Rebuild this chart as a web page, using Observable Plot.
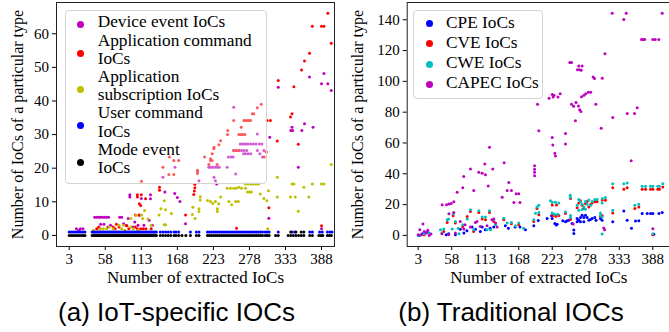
<!DOCTYPE html>
<html><head><meta charset="utf-8">
<script src="https://cdn.jsdelivr.net/npm/d3@7"></script>
<script src="https://cdn.jsdelivr.net/npm/@observablehq/plot@0.6"></script>
<style>
html,body{margin:0;padding:0;background:#fff;}
#root{position:relative;width:669px;height:332px;overflow:hidden;background:#fff;}
.panel{position:absolute;top:0;}
.cap{position:absolute;top:297px;font-family:"Liberation Sans",Arial,sans-serif;font-size:26px;line-height:30px;white-space:nowrap;transform:translateX(-50%);color:#000;}
.lgbox{position:absolute;box-sizing:border-box;border:1px solid #d4d4d4;border-radius:4px;background:rgba(255,255,255,0.35);}
.lgtxt{position:absolute;font-family:"Liberation Serif","Times New Roman",serif;font-size:17.3px;line-height:18px;height:18px;white-space:nowrap;color:#000;}
.lgdot{position:absolute;width:7px;height:7px;border-radius:50%;}
</style></head><body><div id="root"></div>
<script>
// ---------- tick labels ----------
const xTickValues = [3, 58, 113, 168, 223, 278, 333, 388];
const iotTicks = [0, 10, 20, 30, 40, 50, 60];
const tradTicks = [0, 20, 40, 60, 80, 100, 120, 140];

// ---------- (a) IoT-specific IOCs: [extracted IoCs, count] ----------
const deviceEvent = [[14,2],[18,1.5],[20,2],[24,2],
[42,5.4],[45,5.4],[48,5.4],[51,5.4],[54,5.4],[57,5.4],[60,5.4],[63,5.4],[80,5.4],[83,5.4],[93,5],
[51,3.3],[56,3.3],[62,2.5],[66,3],[86,3.5],[90,3],[100,2.5],[103,4],[108,3],[117,3],[125,4.5],[130,3],
[95.5,12.1],[95.5,11.4],[127,12.1],[127,10.9],[113,11],[110,6],
[146,17.3],[149,12.9],[164.4,20.3],[164,12.5],[168,11.3],[172,10.1],[180.5,3.5],
[199,19],[201,16.3],
[216,20.3],[219,20.3],[222,20.3],[226,20.3],[229,20.3],[232,20.3],[224,17.3],[226,16.3],[228,15.3],
[244,20.3],[246,23.3],[250,23.3],[253,23.3],[257,18.3],
[254,25.3],[258,25.3],[262,25.3],[266,25.3],[270,25.3],[274,25.3],
[269,24.3],[272,24.3],[276,24.3],[280,24.3],
[264,27.2],[267,27.2],[270,27.2],[273,27.2],[276,27.2],[280,27.2],[284,27.2],[288,27.2],[293,27.2],[297,27.2],
[290,25.3],[294,24.3],[298,23.3],[300,25.3],
[254,38.1],[290,30.2],[309,29.2],[322,44.1],[341,31.2],[343,32.2],[344,31.2],[358,31.2],[362,33.2],[375,32.2],
[352.5,20.3],[369.7,47.1],[388,45.1],[391.6,48.2],[397.6,45.1],[402.8,43.1],[307.6,5.1],[388,2]];

const applicationCommand = [[45,2],[48,2.5],[50,2],[70,2.5],[73,2],[75,3.3],[79,2.5],[91,2.9],[94,2],[104,2.5],[107,2],[112,2],[116,2],[120,2],[128,2],
[104,6.1],[109.5,6.1],[107,12.1],[107,11.4],[113.3,16.1],[119.5,10.9],[110,9.4],[112,8.9],[113,12.1],
[140.8,14.3],[140.8,13.4],[146,20.3],[155,18.1],[162.6,18.1],[156,23.3],[162.6,22.3],[170,22.3],[180.5,6.1],
[194.7,15.2],[194.7,14.2],[194,13.2],[193,12.2],[198.7,19.4],[198.7,18.4],
[209.5,23.3],[216,21.1],[218.6,22.8],[221.2,24.3],[223.7,25.8],[228.8,21.1],[218.6,22.3],[221,22.3],[224,26.2],[231.4,27],[234,28.2],
[245,31.2],[244.6,30],[254,34.2],[254,25.3],[258,25.3],[262,25.3],[258.3,2.1],
[261.8,30],[265,30],[268,30],[271,30],[265.5,32.2],[269.5,34.2],[272,34.2],[275,34.2],[277.5,34.2],[279.7,34.2],[282.3,36.2],[284.7,36.2],[290,38],[296,39],
[305,34.2],[310,34.2],[300.5,23.3],[303.6,24.8],[307.6,8.2],
[320.4,28.1],[322,46.1],[340.7,35.2],[343,36.2],[345.8,44.2],[352.5,27.1],
[357.5,49.2],[362,51.9],[369.7,54.2],[374,62.2],[388,62.2],[391.6,62.2],[397.6,66.1],[402.8,57.2],[388,2.9]];

const applicationSubscription = [[40,1.5],[50,2],[55,2],[60,2],[64,2.5],[70,2],[79,3],[83,2],[86,3],[88,1.5],[97,2.5],[101,2],[108,1.5],
[97,5],[105,6],[113.3,6.1],[118,7.4],[123,4.9],[115,5],[128,3],
[140,6.1],[143,7.9],[148,10.3],[150,7.6],[148,3.2],[150,3.2],[159,6.5],
[191.6,8.4],[191,6.2],[195,5],[201,7.9],[201,7.1],[203,11.5],[203,10.5],
[214,10.4],[218.6,10.1],[222,9.5],[226,10.1],[229,7.9],[229,7.1],[234,11.4],[231,9.4],
[244,14],[249,14],[254,14],[258,14],[262,14.3],[266,14],[272,14],
[246.6,10.1],[250.8,9.1],[257,10.1],[261,10.1],
[272,15.3],[276,15.3],[280,15.3],[284,15.3],[288,15.3],[292,15.3],
[275,12.9],[278,12.9],[281,12.9],
[294.5,12.3],[304.6,10.3],[307,13.3],[300,11],[306,2],
[320.4,17.3],[320.4,11.4],[343,15.3],[345.8,15.3],[361,14.3],[374,15.3],[388,15.3],[391.6,15.3],[340.7,11.4],[348,11.4],[368.6,11.4],[352.5,7.2],[402.8,21.1]];

const userCommand = [[3,1],[6,1],[9,1],[12,1],[15,1],[18,1],[21,1],[24,1],[27,1],
[38,1],[40,1],[42,1],[44,1],[46,1],[48,1],[50,1],[52,1],[54,1],[56,1],[58,1],[60,1],[62,1],[64,1],[66,1],[68,1],[70,1],[72,1],[74,1],[76,1],[78,1],[80,1],[82,1],[84,1],[86,1],[88,1],[90,1],[92,1],[94,1],[96,1],[98,1],[100,1],[102,1],[104,1],[106,1],[108,1],[110,1],[112,1],[114,1],[116,1],[118,1],[120,1],[122,1],[124,1],[126,1],[128,1],[130,1],[132,1],[134,1],[136,1],
[142,1],[146,1],[150,1],[154,1],[158,1],[163,1],[166,1],[170,1],[188,1],[197,1],[201,1],
[214,1],[217,1],[220,1],[223,1],[226,1],[229,1],[232,1],[235,1],[238,1],[241,1],[244,1],[247,1],[250,1],[253,1],[256,1],[259,1],[262,1],[265,1],[268,1],[271,1],[274,1],[277,1],[280,1],[283,1],[286,1],[289,1],[292,1],[295,1],[298,1],
[302,1],[305,1],[308,1],[322,1],[343,1],[347,1],[370,1],[374,1],[385,1],[389,1],[397,1],[401,1],[404,1]];

const modeEvent = [[3,0],[6,0],[9,0],[12,0],[15,0],[18,0],[21,0],[24,0],[27,0],
[38,0],[40,0],[42,0],[44,0],[46,0],[48,0],[50,0],[52,0],[54,0],[56,0],[58,0],[60,0],[62,0],[64,0],[66,0],[68,0],[70,0],[72,0],[74,0],[76,0],[78,0],[80,0],[82,0],[84,0],[86,0],[88,0],[90,0],[92,0],[94,0],[96,0],[98,0],[100,0],[102,0],[104,0],[106,0],[108,0],[110,0],[112,0],[114,0],[116,0],[118,0],[120,0],[122,0],[124,0],[126,0],[128,0],[130,0],[132,0],[134,0],[136,0],
[142,0],[146,0],[150,0],[154,0],[158,0],[163,0],[166,0],[170,0],[175,0],[181,0],[188,0],[197,0],[201,0],
[214,0],[217,0],[220,0],[223,0],[226,0],[229,0],[232,0],[235,0],[238,0],[241,0],[244,0],[247,0],[250,0],[253,0],[256,0],[259,0],[262,0],[265,0],[268,0],[271,0],[274,0],[277,0],[280,0],[283,0],[286,0],[289,0],[292,0],[295,0],[298,0],
[302,0],[305,0],[308,0],[318,0],[322,0],[337,0],[341,0],[345,0],[349,0],[353,0],[357,0],[361,0],[341,1],[349,1],[357,1],[361,1],
[370,0],[374,0],[384,0],[387,0],[390,0],[397,0],[400,0],[403,0]];

// ---------- (b) Traditional IOCs ----------
const cpe = [[5,0],[10,1],[18,2],[49,0.4],[53,1],[64,0.4],[72,4],[78,1.5],[83,3],[91.5,5.4],[97,4],[105,2.6],[108,5.4],[113,3.7],[121,4.7],[127,5.4],[146,6.2],[151,4.7],[162,5.4],[170,5.4],[179,3.7],[192.7,6.2],[200,9.7],
[214.6,11],[221.8,12.8],[222.9,11],[227.2,7.8],[229.4,6.8],[231,7.3],[240.3,9.5],[244.7,8.9],[247.5,9.5],[250.2,9.9],[255.6,7.8],[258.4,3.5],[258.4,1.3],
[263.8,8.9],[266.5,9.9],[269.3,11.6],[272,13.1],[274.8,11.6],[277.5,13.1],[280.2,11.6],[283,9.9],[285.7,10.3],[288.4,11],[292.8,11.6],[294.8,9.9],[263.8,11],[269.3,8.9],[274.8,8.9],
[302,11],[304.8,9.9],[322.3,8.9],[340.4,15.9],[345.9,9.9],[353,4.6],[359.6,9.3],[365,9.5],[370.5,14.2],[378.7,14.2],[384.2,14.2],[388,14.2],[398,14.2],[403.4,14.8],[389.7,0.7]];

const cve = [[13,0.4],[45,2.6],[50.6,8.4],[60.4,12.7],[64,8],[76,5.4],[83.4,12.3],[88.8,15.5],[94,2.6],[102.5,14.9],[108,10.6],[113.4,10.2],[120,14.9],[127,9.1],[143.5,10.2],[156,7.6],[168,6.9],[192.7,9.1],[201,13.4],
[198,17.5],[222.9,19.8],[230,19.8],[224,13],[229,12.5],[233.8,13],[244.7,14.2],[253,23.9],[253,10.5],
[263.8,18],[266.5,21],[269.3,22.5],[272,19.5],[274.8,17.5],[277.5,20.5],[280.2,22],[283,18.5],[286,20],[288.4,21],[292.8,21.8],[296.6,21.8],
[302,12.5],[304.8,13],[305,23],[310.3,22.8],[322.3,31],[322.3,14.6],[340.4,29.9],[345.9,31],[358.5,17.5],[365,18.5],
[370.5,29.9],[376,29.9],[384.2,29.9],[388,29.9],[396.2,29.9],[398.9,29.9],[404.4,31.5],[388,0.5]];

const cwe = [[3,0],[13,1],[21,1.5],[39.6,3.7],[42,1.5],[45,4.1],[50.6,10.2],[53,10.6],[58.8,4.1],[60.4,14.1],[64,9.1],[68.6,4.7],[70,1],[76,6.9],[83.4,10.6],[88.8,16.6],[94,3.7],[102.5,16],[108,11.9],[113.4,11.9],[116,3.7],[120,16],[121.7,3.7],[127,10.2],[130,6.9],[143.5,11.2],[149,8],[156,8.4],[162.6,6.2],[168,8],[176,4.7],[192.7,10.2],[201,14.9],
[195.5,14.4],[198,18.5],[201,19.5],[222.9,21.5],[220,22.5],[228.3,21.5],[233.8,21.1],[222.9,14.6],[227,13.8],[232,13.8],[244.7,15.2],[252.5,26.1],[252.5,24.6],[253,13],[253,11.6],
[263.8,19.6],[266.5,23.3],[269.3,21.8],[272,20.3],[274.8,18.5],[277.5,22],[280.2,20.3],[283,23],[286,19.6],[288.4,22],[292.8,23.3],[296.6,23.3],[266.5,16.4],[272,16.8],[277.5,17],
[302,14.6],[302,13],[304.8,12],[304.8,0.9],[304.8,21.1],[305,24],[310.3,24.6],
[322.3,33.6],[322.3,16.4],[340.4,33.6],[345.9,34],[358.5,19.6],[365,20.3],
[370.5,31.9],[376,31.9],[384.2,31.9],[388,31.9],[396.2,31.9],[398.9,31.9],[404.4,33.6],[388,1]];

const capec = [[3,0.4],[5.6,3.7],[8,0.4],[10.8,7.4],[13,2.6],[16,1.5],[18.8,3.3],[21,0],[24,0.9],[42,1],[53,0.4],[64,1.5],[78,4.1],[97,8.4],[99.5,9.1],[105,5.8],[116,6.2],[124,10.2],[127,10.6],[130,8],[132.5,5.4],[72,9.1],[80,6.9],[88.8,5.4],
[42.4,19.9],[49.5,19.9],[53.4,20.4],[57.2,20.7],[61.5,21.8],[53.4,14],[61.5,14.9],[67,28],[76.2,31],[77.8,38.2],[88.8,43.1],[94.2,29.1],[102.5,41],[108,40.3],[113.4,39.3],[112.3,46.4],[117.9,32.1],[120,57.2],[125.4,43.1],[140.8,24.8],[144.1,47.2],[149,29.1],[156,29.1],[151.7,34.3],[163.8,27],[168,27],[160,21.4],[170,21.4],
[194,38.8],[194,41],[194,43],[194,45.3],[198.8,85.2],[200.9,67.9],[217.8,89],[223,91.5],[225.8,91],[224.4,89.8],[232.4,89.8],[236,92],[222.9,63.6],[223.9,58.7],[227.2,53.3],[228.2,51.6],[244.7,66.2],[244.7,59.3],
[251.8,112.2],[254.6,112.2],[254.6,85.2],[258,83.9],[261,74.4],[262,86.3],[264.4,107.6],[266.5,110],[268,107.6],[270.5,107.2],[272,110],[266,84],[268,81.5],[270,80.5],[271,90],[275,91],[278,92],[282,93],[286,93],
[290,102.8],[292.3,101.8],[294.5,85.2],[303.3,69.5],[305,102],[309.4,118],[321.3,144.2],[322.3,76.6],[340.4,140.2],[344.3,144.2],[346,79.2],[352.5,48.5],[358,79.2],[362.4,82.8],
[369.4,127.2],[372,127.2],[374.8,127.2],[388,127.2],[392,127.2],[397.8,127.2],[403.4,144.2],
[257.3,7.4],[307.5,4.8],[309,3.7],[388,4.3]];

// ---------- labels ----------
const iotLabels = ["Device event IoCs", "Application command\nIoCs", "Application\nsubscription IoCs", "User command\nIoCs", "Mode event\nIoCs"];
const tradLabels = ["CPE IoCs", "CVE IoCs", "CWE IoCs", "CAPEC IoCs"];
const iotColors = ["#bf00bf", "#ff0000", "#bfbf00", "#0000ff", "#000000"];
const tradColors = ["#0000ff", "#ff0000", "#00bfbf", "#bf00bf"];
const xAxisLabel = "Number of extracted IoCs";
const yAxisLabel = "Number of IoCs of a particular type";
const captions = ["(a) IoT-specific IOCs", "(b) Traditional IOCs"];

const serif = "Liberation Serif, Times New Roman, serif";
const root = document.getElementById("root");

function panel(o) {
  const marks = [Plot.frame({stroke: "#222", strokeWidth: 1})];
  o.series.forEach((s, i) => marks.push(Plot.dot(s, {x: d => d[0], y: d => d[1], r: 1.5, fill: o.colors[i]})));
  marks.push(Plot.text([xAxisLabel], {frameAnchor: "bottom", dy: 31, text: d => d, textAnchor: "middle", lineAnchor: "middle", fontSize: 17, fontFamily: serif, fill: "#000"}));
  marks.push(Plot.text([yAxisLabel], {frameAnchor: "left", dx: o.yLabelDx, rotate: -90, text: d => d, textAnchor: "middle", lineAnchor: "middle", fontSize: 16, fontFamily: serif, fill: "#000"}));
  const svg = Plot.plot({
    width: o.width, height: 290,
    marginLeft: o.marginLeft, marginRight: o.marginRight, marginTop: o.marginTop, marginBottom: 44,
    style: {fontFamily: serif, fontSize: "15px", background: "transparent", color: "#000", overflow: "visible"},
    x: {domain: o.xDomain, ticks: xTickValues, tickSize: 4, tickPadding: 3, label: null},
    y: {domain: o.yDomain, ticks: o.yTicks, tickSize: 4, tickPadding: 3.5, label: null},
    marks
  });
  svg.classList.add("panel");
  svg.style.left = o.left + "px";
  svg.setAttribute("font-family", serif);
  root.appendChild(svg);
}

panel({left: 0, width: 335, marginLeft: 56, marginRight: 1, marginTop: 2,
  xDomain: [-16.4, 407.8], yDomain: [-3.3, 69.3], yTicks: iotTicks, yLabelDx: -39,
  series: [deviceEvent, applicationCommand, applicationSubscription, userCommand, modeEvent], colors: iotColors});
panel({left: 335, width: 336, marginLeft: 71.7, marginRight: 1, marginTop: 2,
  xDomain: [-15, 417], yDomain: [-7.2, 151.2], yTicks: tradTicks, yLabelDx: -49,
  series: [cpe, cve, cwe, capec], colors: tradColors});

function legend(o) {
  const box = document.createElement("div");
  box.className = "lgbox";
  Object.assign(box.style, {left: o.x + "px", top: o.y + "px", width: o.w + "px", height: o.h + "px"});
  root.appendChild(box);
  let line = 0;
  o.labels.forEach((lab, i) => {
    const lines = lab.split("\n");
    const c0 = o.firstLine + line * o.step;
    lines.forEach((t, k) => {
      const el = document.createElement("div");
      el.className = "lgtxt";
      el.textContent = t;
      Object.assign(el.style, {left: o.textX + "px", top: (c0 + k * o.step - 9) + "px"});
      root.appendChild(el);
    });
    const mid = c0 + (lines.length - 1) * o.step / 2 + (lines.length > 1 ? 3.5 : o.singleOff);
    const dot = document.createElement("div");
    dot.className = "lgdot";
    Object.assign(dot.style, {left: (o.dotX - 3.5) + "px", top: (mid - 3.5) + "px", background: o.colors[i]});
    root.appendChild(dot);
    line += lines.length;
  });
}
legend({x: 65, y: 10, w: 202, h: 174, labels: iotLabels, colors: iotColors, firstLine: 22.3, step: 18.2, textX: 97.7, dotX: 80, singleOff: 1.7});
legend({x: 413, y: 10, w: 130, h: 89, labels: tradLabels, colors: tradColors, firstLine: 22.7, step: 20.2, textX: 446, dotX: 429, singleOff: 1});

captions.forEach((t, i) => {
  const el = document.createElement("div");
  el.className = "cap";
  el.textContent = t;
  el.style.left = (i === 0 ? 176.5 : 511) + "px";
  root.appendChild(el);
});
</script></body></html>
